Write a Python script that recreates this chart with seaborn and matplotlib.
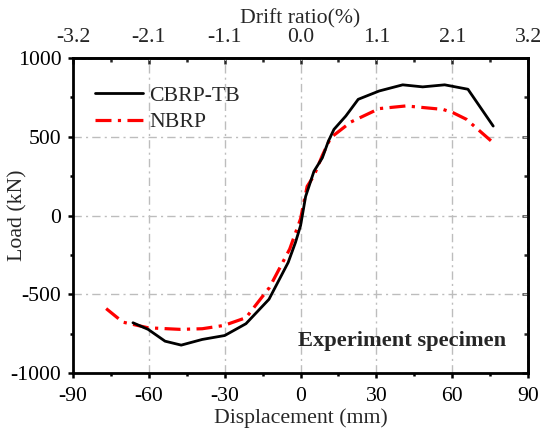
import matplotlib
matplotlib.use("Agg")
import matplotlib.pyplot as plt
import seaborn as sns
import pandas as pd
from matplotlib.ticker import MultipleLocator

sns.set_theme(style="white")
plt.rcParams['font.family'] = ['Liberation Serif', 'DejaVu Serif']
plt.rcParams['axes.unicode_minus'] = False

cbrp_x = [-66.3, -60.3, -53.6, -47.2, -38.9, -30.0, -21.6, -12.5, -4.9, -2.0, 0.0, 2.0, 5.3, 8.6,
          11.0, 13.2, 17.9, 22.8, 31.1, 40.4, 48.3, 57.0, 66.2, 76.2]
cbrp_y = [-681, -723, -798, -823, -787, -762, -687, -532, -298, -170, -64, 121, 281, 366,
          472, 547, 632, 738, 791, 830, 817, 830, 802, 568]
nbrp_x = [-76.9, -70.3, -60.3, -47.6, -38.9, -30.3, -21.6, -12.3, -4.3, 0.0, 2.6, 5.3, 8.6,
          11.9, 19.9, 31.1, 41.7, 56.3, 60.3, 65.6, 76.2]
nbrp_y = [-591, -677, -713, -723, -719, -698, -649, -457, -213, -21, 185, 253, 381,
          494, 594, 679, 696, 674, 653, 611, 462]

x_ticks = [-90, -60, -30, 0, 30, 60, 90]
y_ticks = [-1000, -500, 0, 500, 1000]
drift_labels = ["-3.2", "-2.1", "-1.1", "0.0", "1.1", "2.1", "3.2"]

FS = 15.7

df1 = pd.DataFrame({"x": cbrp_x, "y": cbrp_y})
df2 = pd.DataFrame({"x": nbrp_x, "y": nbrp_y})

fig = plt.figure(figsize=(5.45, 4.32), dpi=100)
ax = fig.add_axes([0.134, 0.1366, 0.835, 0.729])

sns.lineplot(data=df1, x="x", y="y", ax=ax, color="black", lw=2.0, sort=False,
             label="CBRP-TB", zorder=4)
sns.lineplot(data=df2, x="x", y="y", ax=ax, color="red", lw=2.3, sort=False,
             label="NBRP", zorder=3, linestyle=(0, (5, 2, 1, 2)))

ax.set_xlim(-90, 90)
ax.set_ylim(-1000, 1000)
ax.set_xticks(x_ticks)
ax.set_yticks(y_ticks)
ax.xaxis.set_minor_locator(MultipleLocator(15))
ax.yaxis.set_minor_locator(MultipleLocator(250))
ax.grid(True, which="major", color="#bdbdbd", lw=1.0, linestyle=(0, (6, 3, 1.5, 3)))
ax.set_axisbelow(True)

for s in ax.spines.values():
    s.set_linewidth(2.0)
    s.set_color("black")

ax.tick_params(axis="x", which="both", direction="out", bottom=True, top=False,
               labelsize=FS, colors="black", pad=6.5)
ax.tick_params(axis="y", which="both", direction="out", left=True, right=False,
               labelsize=FS, colors="black", pad=5)
ax.tick_params(which="major", length=3.5, width=1.8)
ax.tick_params(which="minor", length=2.5, width=1.8)

ax.set_xlabel("Displacement (mm)", fontsize=FS)
ax.xaxis.set_label_coords(0.5, -0.143)
ax.xaxis.label.set_va("center")
ax.set_ylabel("Load (kN)", fontsize=FS)
ax.yaxis.set_label_coords(-0.121, 0.5)
ax.yaxis.label.set_va("center")

# right ticks inward
axr = ax.secondary_yaxis("right")
axr.set_yticks(y_ticks)
axr.yaxis.set_minor_locator(MultipleLocator(250))
axr.tick_params(which="both", direction="in", labelright=False, width=1.8)
axr.tick_params(which="major", length=4)
axr.tick_params(which="minor", length=3)
axr.spines["right"].set_linewidth(2.0)

# top drift ratio axis
axt = ax.secondary_xaxis("top")
axt.set_xticks(x_ticks)
axt.set_xticklabels(drift_labels)
axt.xaxis.set_minor_locator(MultipleLocator(15))
axt.tick_params(which="both", direction="in", labelsize=FS, width=1.8, pad=8)
axt.tick_params(which="major", length=4)
axt.tick_params(which="minor", length=3)
axt.spines["top"].set_linewidth(2.0)
fig.text(300 / 545, 1 - 19 / 432, "Drift ratio(%)", fontsize=FS, ha="center", va="center")

leg = ax.legend(loc="upper left", frameon=False, fontsize=FS, handlelength=2.2,
                handletextpad=0.3, bbox_to_anchor=(0.005, 0.975), borderaxespad=0.5,
                labelspacing=0.28)

ax.text(40.1, -800, "Experiment specimen", fontsize=16.2, fontweight="bold",
        ha="center", va="center")

fig.savefig("out.png", dpi=100)
